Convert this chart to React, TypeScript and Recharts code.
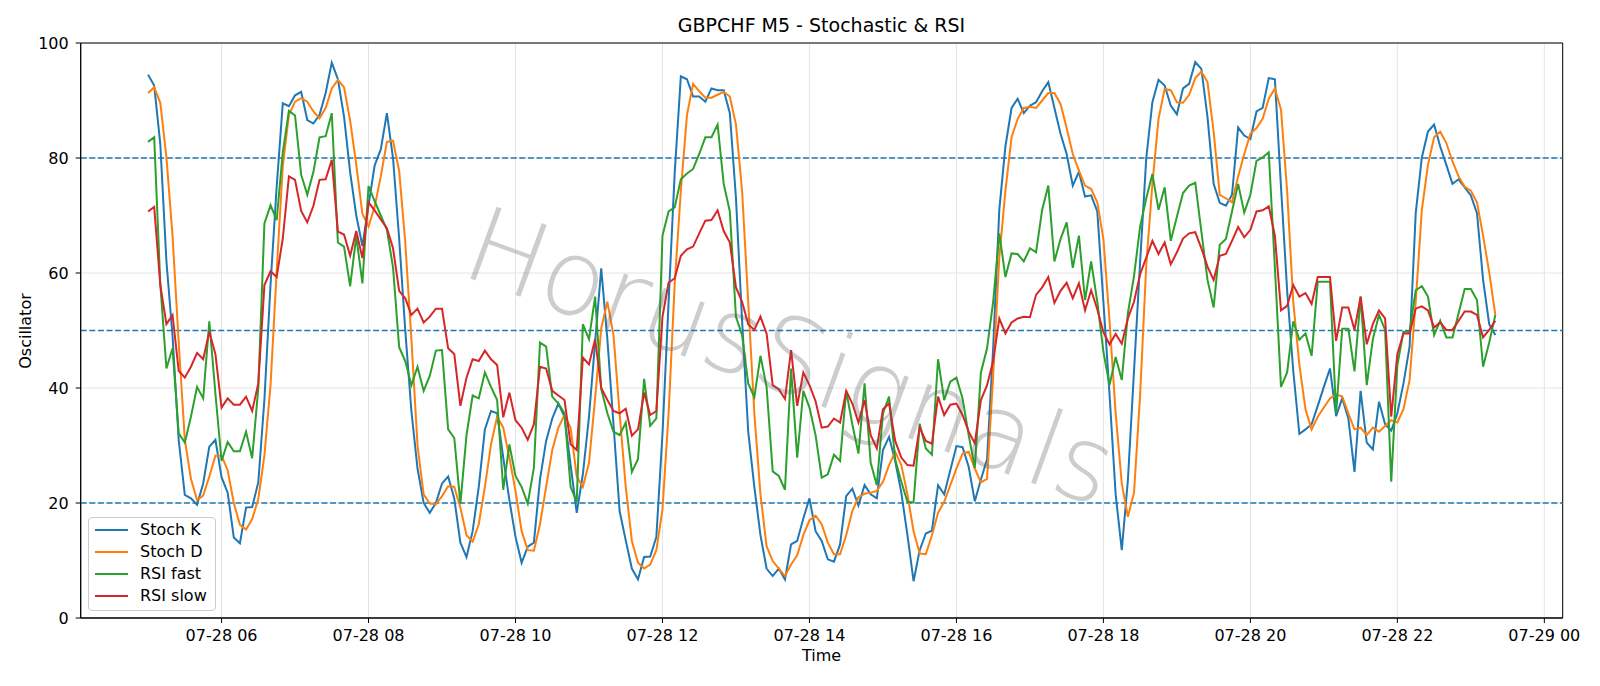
import React from 'react';
import {
  LineChart,
  Line,
  XAxis,
  YAxis,
  CartesianGrid,
  ReferenceLine,
  ReferenceArea,
  Legend,
} from 'recharts';

const FONT = '"DejaVu Sans", "Liberation Sans", sans-serif';

// 5-minute bars on 07-28, first bar 05:00 (minutes after midnight)
const START_MIN = 300;
const STEP_MIN = 5;

const stochK = [
  94.5, 92.6, 82.4, 62, 49, 31, 21.4, 20.8, 19.7, 23.4,
  29.8, 31, 24.5, 21.8, 14, 13, 19.2, 19.3, 23.6, 38,
  58, 75, 89.5, 89, 90.9, 91.5, 86.6, 86, 87.5, 91.3,
  96.6, 93.7, 87.2, 77.5, 70, 64.7, 71.8, 78.7, 81.5, 87.8,
  80, 66, 50, 36, 26, 20, 18.3, 20, 23.4, 24.6,
  20.8, 13.1, 10.6, 15.1, 22.8, 32.8, 36, 35.6, 27.9, 20.5,
  14.1, 9.6, 12.4, 13.1, 24.1, 30.8, 34.7, 37.3, 35, 26.6,
  18.3, 25, 35, 48, 60.8, 48.5, 33.7, 18.6, 13.5, 8.6,
  6.7, 10.6, 10.7, 14.1, 32, 55, 77.5, 94.2, 93.7, 90.7,
  90.7, 89.8, 92.1, 91.8, 91.8, 87.8, 73, 51.7, 32.4, 22.8,
  14.4, 8.6, 7.3, 8.6, 6.7, 12.8, 13.4, 17.3, 20.8, 15.1,
  13.4, 10.2, 9.8, 12.8, 21.2, 22.5, 19.6, 23.1, 21.5, 20.8,
  29.2, 31.5, 27.3, 21.8, 14.4, 6.4, 11.8, 14.7, 15.2, 23.1,
  21.5, 25.7, 29.9, 29.7, 26.3, 20.3, 24.1, 27.6, 47, 71,
  82, 88.7, 90.3, 87.8, 89.1, 89.7, 91.6, 93.2, 88.7, 84.2,
  80.7, 75.2, 77.6, 73.3, 73.5, 70.7, 55, 38.9, 21.5, 11.8,
  24, 43, 62, 80, 89.7, 93.6, 92.6, 89.1, 87.6, 92.1,
  92.9, 96.7, 95.5, 87.1, 75.5, 72.2, 71.7, 73.6, 85.3, 83.9,
  83.3, 88.1, 88.7, 93.9, 93.7, 75, 57, 43, 32, 32.8,
  33.7, 36.9, 40.2, 43.4, 35.1, 38.2, 34.7, 25.4, 39.5, 30.5,
  29.3, 37.6, 33.7, 32.6, 35.6, 40.8, 47.2, 70.4, 80.1, 84.6,
  85.8, 82, 78.8, 75.5, 76.3, 74.9, 73.5, 70.4, 58.8, 51.1,
  49.2,
];

const stochD = [
  91.3, 92.3, 89.6, 80.1, 66.4, 48, 31, 24.2, 20.5, 21.3,
  24.6, 28.2, 28.2, 25.7, 20, 16.2, 15.4, 17.2, 20.7, 28.3,
  40.5, 60.3, 78.6, 87.5, 89.8, 90.4, 89.8, 88.1, 86.9, 88.7,
  92.1, 93.6, 92.3, 86.5, 78.8, 70.3, 68.1, 71.5, 76.8, 82.8,
  83, 77.8, 65.3, 48.5, 30, 21.5, 19.9, 19.8, 21.2, 22.9,
  22.8, 19.2, 14.4, 13.3, 16.3, 22.8, 30.2, 35, 33.1, 27.9,
  22.1, 15.1, 11.8, 11.7, 16.3, 22.8, 29.2, 33.1, 35.3, 33.1,
  24.6, 22.8, 27, 38.2, 50.4, 55, 49.2, 35.6, 22.8, 13.4,
  9.6, 8.6, 9.3, 11.8, 18.9, 35.6, 58.2, 74.3, 87.5, 92.9,
  91.6, 90.5, 90.5, 91, 91.5, 90.7, 85.8, 74.3, 55, 35.6,
  21.5, 12.5, 9.9, 8.6, 7.3, 9.3, 10.9, 14.4, 17, 17.8,
  16.3, 13.1, 11.1, 11.1, 14.4, 18.6, 21, 21.6, 21.8, 22.1,
  23.7, 26.6, 28.9, 26.6, 21.5, 15.1, 11.2, 11.1, 14.4, 18.3,
  20.2, 23.1, 26, 28.6, 28.9, 26, 23.6, 24.2, 42.1, 62.7,
  74.3, 83.6, 86.8, 88.7, 88.9, 88.7, 90, 91.3, 91.3, 89.4,
  85.2, 80.7, 77.8, 75.2, 74.6, 72.3, 65.9, 51.7, 35.6, 23.4,
  17.6, 21.8, 38.9, 61.4, 75.5, 86.8, 92, 91.8, 89.7, 89.6,
  91, 93.9, 95, 93.2, 84.6, 73.6, 73, 72.3, 76.8, 80.7,
  84.2, 85.2, 86.8, 90.3, 92.1, 88.4, 74.3, 55, 44, 36.3,
  32.8, 35, 36.6, 38.2, 38.9, 38.5, 35.6, 32.8, 33.1, 31.8,
  33.1, 32.4, 33.4, 34.4, 34, 36.3, 41.4, 55, 71, 78.8,
  83.6, 84.6, 82.6, 79.4, 76.8, 75, 74.3, 72.3, 66.5, 60.1,
  52.7,
];

const rsiFast = [
  82.8, 83.6, 58, 43.4, 46.9, 32.1, 30.5, 35, 40.2, 38.2,
  51.6, 39, 27.3, 30.6, 29, 29, 32.4, 27.8, 40, 68.6,
  71.8, 69.2, 81, 88.2, 87.4, 77.1, 73.6, 77.6, 83.6, 83.8,
  87.8, 65.3, 64.6, 57.7, 66.4, 58.2, 75.1, 72.5, 70, 67.5,
  61, 47.1, 44.7, 40.5, 43.7, 39.5, 42.1, 46.5, 46.6, 32.8,
  31.3, 19.9, 31.8, 38.7, 38.2, 42.7, 40.2, 37.9, 22.3, 30.2,
  24.7, 22.8, 19.9, 26.1, 47.9, 47.2, 38.5, 37.3, 35.6, 22.8,
  20.2, 51.1, 48.5, 55.9, 39.8, 35.6, 32.4, 31.8, 34, 25.4,
  27.6, 41.6, 33.4, 34.7, 66.5, 70.7, 71.4, 76.3, 77.3, 78.1,
  80.7, 83.6, 83.6, 85.8, 75.5, 70.7, 52.4, 49.2, 40.8, 38.4,
  45.6, 40.2, 25.5, 24.7, 22.3, 43.4, 27.9, 39.5, 36.6, 31.8,
  24.4, 25, 28.4, 27.3, 39.5, 33.7, 28.6, 40.8, 27, 23.1,
  35.6, 38.5, 27.6, 23.7, 20.2, 20.1, 33.8, 29.5, 28.4, 45,
  37.9, 41.1, 41.8, 38.2, 31.8, 26.1, 42.7, 46.9, 55, 66.9,
  59.3, 63.4, 63.3, 62, 64.3, 63.6, 71, 75.2, 62, 65.9,
  68.8, 60.9, 66.5, 55.3, 62, 55, 46.3, 40.5, 45.4, 41.4,
  53, 59.5, 68.1, 73, 77.2, 71, 74.9, 65.6, 69.8, 73.9,
  75.2, 75.7, 67.2, 58.8, 54, 64.9, 65.9, 70.7, 75.5, 70.5,
  73.6, 79.5, 80.1, 81, 61, 40.2, 42.7, 51.6, 48.4, 49.5,
  45.6, 58.5, 58.5, 58.5, 35.6, 50.3, 50.3, 42.9, 55.9, 40.5,
  48.5, 52.7, 50.1, 23.7, 44, 49.8, 49.8, 57, 57.7, 55.9,
  49.2, 51.7, 48.8, 48.8, 53, 57.2, 57.2, 55.3, 43.7, 47.9,
  52.7,
];

const rsiSlow = [
  70.7, 71.5, 57.9, 51.1, 52.7, 43, 41.8, 43.7, 46.1, 45,
  49.8, 45.9, 36.6, 38.2, 37.1, 37.1, 38.5, 36, 40.8, 57.9,
  60.3, 59.3, 66, 76.8, 76.2, 70.8, 68.8, 71.7, 76.2, 76.3,
  79.7, 67.2, 66.7, 63, 67.3, 62.6, 72.3, 70.9, 69.3, 67.8,
  64.3, 56.9, 55.6, 52.7, 53.8, 51.4, 52.4, 53.8, 53.8, 46.9,
  45.9, 36.9, 41.8, 45, 44.7, 46.5, 45, 44, 34.9, 39.2,
  34.4, 33.1, 31, 33.7, 43.7, 43.4, 39.5, 38.7, 37.9, 30.2,
  29.2, 45.3, 44.1, 48.5, 40, 37.9, 36, 35.6, 36.4, 31.7,
  32.8, 39.2, 35.3, 36, 52.4, 58.3, 59.1, 63, 64.1, 64.6,
  66.9, 69.1, 69.2, 70.9, 67.3, 65.3, 57.5, 55, 51.1, 50.1,
  52.4, 49.5, 40.5, 39.8, 38.1, 46.6, 36.9, 42.7, 40.5, 37.7,
  33.1, 33.3, 34.7, 34, 39.5, 37.3, 34, 37.9, 31.8, 29.5,
  36.3, 37.3, 30.8, 27.9, 26.6, 26.5, 33.1, 30.8, 30.3, 38.5,
  35.3, 37.1, 37.3, 35.3, 32.4, 30.4, 37.9, 40.5, 44.7, 52.1,
  49.5, 51.4, 52.1, 52.4, 52.3, 56.2, 57.5, 59.3, 54.8, 56.9,
  58.3, 55.6, 58.2, 53.5, 57, 53.7, 49.7, 47.6, 49.4, 47.7,
  52.1, 55, 59.8, 62.7, 65.6, 63.3, 65.3, 61.5, 63.6, 66,
  66.9, 67.1, 64.3, 61.1, 58.8, 63, 63.3, 65.6, 68, 66.2,
  67.5, 70.7, 70.9, 71.6, 66.5, 53.5, 54.3, 57.9, 55.9, 56.5,
  54.6, 59.3, 59.3, 59.3, 48.2, 54, 54, 50.1, 55.9, 47.6,
  51.1, 53.5, 52.1, 35, 45.9, 49.5, 49.5, 53.8, 54.2, 53.5,
  50.5, 51.4, 50.1, 50.1, 51.7, 53.3, 53.3, 52.7, 48.8, 50.1,
  51.7,
];

const seriesNames = ['Stoch K', 'Stoch D', 'RSI fast', 'RSI slow'];

const tickMinutes = [360, 480, 600, 720, 840, 960, 1080, 1200, 1320, 1440];
const tickLabels = [
  '07-28 06', '07-28 08', '07-28 10', '07-28 12', '07-28 14',
  '07-28 16', '07-28 18', '07-28 20', '07-28 22', '07-29 00',
];
const yTicks = [0, 20, 40, 60, 80, 100];
const levels = [80, 50, 20];

const X_MIN = 245;
const X_MAX = 1455;

const data = stochK.map((k, i) => ({
  t: START_MIN + STEP_MIN * i,
  k,
  d: stochD[i],
  fast: rsiFast[i],
  slow: rsiSlow[i],
}));

const tickFormatter = (v: number) => tickLabels[tickMinutes.indexOf(v)] ?? '';

// legend entries kept in plotting order
const LegendBox = (props: any) => {
  const items = [...(props.payload || [])].sort(
    (a: any, b: any) => seriesNames.indexOf(a.value) - seriesNames.indexOf(b.value)
  );
  return (
    <div
      style={{
        background: 'rgba(255,255,255,0.8)',
        border: '1px solid #cccccc',
        borderRadius: 4,
        padding: '1px 8px 3px 6px',
        fontFamily: FONT,
        fontSize: 16,
        color: '#000',
      }}
    >
      {items.map((p: any) => (
        <div key={p.value} style={{ display: 'flex', alignItems: 'center', height: 22 }}>
          <svg width={33} height={4} style={{ marginRight: 12 }}>
            <line x1={0} y1={2} x2={33} y2={2} stroke={p.color} strokeWidth={2} />
          </svg>
          <span style={{ lineHeight: '22px' }}>{p.value}</span>
        </div>
      ))}
    </div>
  );
};

const tickStyle = { fontFamily: FONT, fontSize: 16, fill: '#000' };

export default function App() {
  return (
    <div style={{ position: 'absolute', left: 0, top: 0, width: 1600, height: 686, background: '#fff' }}>
      <div
        style={{
          position: 'absolute',
          left: 0,
          width: 1643,
          top: 14,
          textAlign: 'center',
          fontFamily: FONT,
          fontSize: 19,
          color: '#000',
          lineHeight: '23px',
        }}
      >
        GBPCHF M5 - Stochastic &amp; RSI
      </div>
      <div
        style={{
          position: 'absolute',
          left: 0,
          width: 1643,
          top: 645,
          textAlign: 'center',
          fontFamily: FONT,
          fontSize: 16,
          color: '#000',
          lineHeight: '22px',
        }}
      >
        Time
      </div>
      <div
        style={{
          position: 'absolute',
          left: 25,
          top: 331,
          transform: 'translate(-50%, -50%) rotate(-90deg)',
          fontFamily: FONT,
          fontSize: 16,
          color: '#000',
          whiteSpace: 'nowrap',
        }}
      >
        Oscillator
      </div>
      <LineChart
        width={1600}
        height={686}
        data={data}
        margin={{ top: 43, right: 37.3, bottom: 0, left: 0 }}
        style={{ position: 'absolute', left: 0, top: 0 }}
      >
        <CartesianGrid stroke="#e4e4e4" strokeWidth={1} />
        <XAxis
          dataKey="t"
          type="number"
          domain={[X_MIN, X_MAX]}
          ticks={tickMinutes}
          tickFormatter={tickFormatter}
          height={68}
          tick={tickStyle}
          tickSize={5}
          tickMargin={7}
          stroke="#000"
          axisLine={{ stroke: '#000' }}
          tickLine={{ stroke: '#000' }}
          allowDataOverflow
        />
        <YAxis
          type="number"
          domain={[0, 100]}
          ticks={yTicks}
          width={80.7}
          tick={tickStyle}
          tickSize={5}
          tickMargin={7}
          axisLine={{ stroke: '#000' }}
          tickLine={{ stroke: '#000' }}
        />
        {levels.map((lv) => (
          <ReferenceLine
            key={lv}
            y={lv}
            stroke="#1f77b4"
            strokeWidth={1.3}
            strokeDasharray="6 2.6"
          />
        ))}
        <Line type="linear" dataKey="k" name={seriesNames[0]} stroke="#1f77b4" strokeWidth={2} dot={false} isAnimationActive={false} />
        <Line type="linear" dataKey="d" name={seriesNames[1]} stroke="#ff7f0e" strokeWidth={2} dot={false} isAnimationActive={false} />
        <Line type="linear" dataKey="fast" name={seriesNames[2]} stroke="#2ca02c" strokeWidth={2} dot={false} isAnimationActive={false} />
        <Line type="linear" dataKey="slow" name={seriesNames[3]} stroke="#d62728" strokeWidth={2} dot={false} isAnimationActive={false} />
        <ReferenceArea
          x1={X_MIN}
          x2={X_MAX}
          y1={0}
          y2={100}
          fill="none"
          stroke="#000"
          strokeWidth={1}
          ifOverflow="visible"
        />
        <Legend
          layout="vertical"
          align="center"
          verticalAlign="middle"
          content={<LegendBox />}
          wrapperStyle={{ left: 88, top: 517, width: 'auto' }}
        />
      </LineChart>
      <div
        style={{
          position: 'absolute',
          left: 791,
          top: 357,
          transform: 'translate(-50%, -50%) rotate(20deg)',
          fontFamily: FONT,
          fontWeight: 200,
          fontSize: 105,
          color: 'rgba(90,90,90,0.3)',
          whiteSpace: 'nowrap',
          pointerEvents: 'none',
        }}
      >
        HorusSignals
      </div>
    </div>
  );
}
